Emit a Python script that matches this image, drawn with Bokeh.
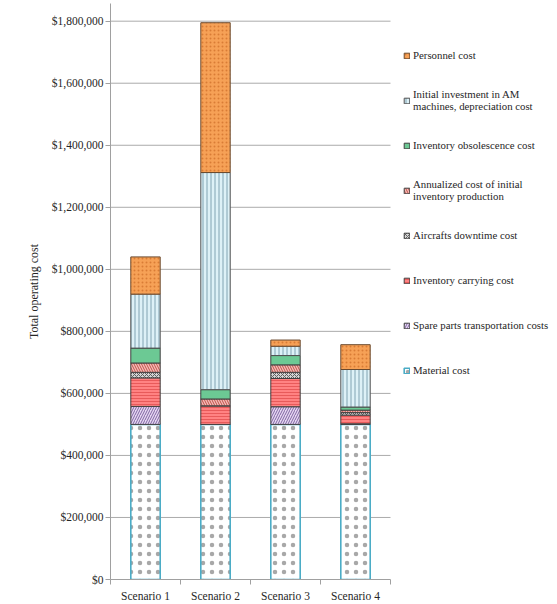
from bokeh.plotting import figure
from bokeh.models import Legend, LegendItem, NumeralTickFormatter, FixedTicker, Range1d, ColumnDataSource
from bokeh.embed import file_html
from bokeh.resources import INLINE

categories = ["Scenario 1", "Scenario 2", "Scenario 3", "Scenario 4"]
material = [500000, 500000, 500000, 500000]
spare_parts = [58000, 0, 57000, 2000]
carrying = [92000, 60000, 91000, 28000]
downtime = [18000, 0, 20000, 8000]
annualized = [30000, 22000, 24000, 8000]
obsolescence = [48000, 30000, 30000, 10000]
investment = [174000, 700000, 30000, 121000]
personnel = [120000, 483000, 20000, 80000]

series_keys = ["material", "spare", "carrying", "downtime", "annualized",
               "obsolescence", "investment", "personnel"]
series_labels = ["Material cost", "Spare parts transportation costs", "Inventory carrying cost",
                 "Aircrafts downtime cost", "Annualized cost of initial\ninventory production",
                 "Inventory obsolescence cost", "Initial investment in AM\nmachines, depreciation cost",
                 "Personnel cost"]
y_ticks = [0, 200000, 400000, 600000, 800000, 1000000, 1200000, 1400000, 1600000, 1800000]

n = len(categories)
centers = [i + 0.5 for i in range(n)]
bounds = [float(i) for i in range(n + 1)]

source = ColumnDataSource(dict(
    x=centers, material=material, spare=spare_parts, carrying=carrying,
    downtime=downtime, annualized=annualized, obsolescence=obsolescence,
    investment=investment, personnel=personnel))

FONT = "Liberation Serif"
TXT = "#262626"

# frame spans x=110..557; category area is first 280 px
x_end = n * 447.0 / 280.0
p = figure(x_range=Range1d(0, x_end), y_range=Range1d(0, 1857000), width=557, height=604,
           output_backend="svg", toolbar_location=None,
           min_border_left=110, min_border_right=0, min_border_top=3, min_border_bottom=21)
p.outline_line_color = None
p.background_fill_color = "white"
p.xgrid.grid_line_color = None
p.ygrid.grid_line_color = None

# horizontal gridlines limited to the category area
p.segment(x0=[0] * len(y_ticks[1:]), x1=[n] * len(y_ticks[1:]), y0=y_ticks[1:], y1=y_ticks[1:],
          line_color="#ABABAB", line_width=1)

fills = ["#FFFFFF", "#E6D8F2", "#FF8282", "#D4D4D4", "#F6BDB6", "#6CC994", "#DDF1F7", "#F6A156"]
hatches = [".", "/", "-", "x", "\\", " ", "|", "."]
hatch_colors = ["#A8A8A8", "#8064A2", "#E85A5A", "#606060", "#C0504D", "#6CC994", "#7FA3B2", "#D97C35"]
hatch_scales = [9, 5, 3, 4, 5, 6, 4, 4]
hatch_weights = [0.5, 1, 1, 1, 1, 1, 1, 0.6]
line_colors = ["#4BACC6", "#404040", "#404040", "#404040", "#404040", "#404040", "#505050", "#6B4A2E"]
line_widths = [1.6, 1, 1, 1, 1, 1, 1, 1]

rs = p.vbar_stack(series_keys, x="x", width=0.42, source=source,
                  fill_color=fills, hatch_pattern=hatches, hatch_color=hatch_colors,
                  hatch_scale=hatch_scales, line_color=line_colors, line_width=line_widths,
                  hatch_weight=hatch_weights)

items = [LegendItem(label=series_labels[i], renderers=[rs[i]]) for i in range(len(rs) - 1, -1, -1)]
legend = Legend(items=items, location=(293, 194), orientation="vertical")
legend.background_fill_alpha = 0
legend.border_line_color = None
legend.border_line_alpha = 0
legend.label_text_font = FONT
legend.label_text_font_size = "10.8px"
legend.label_text_color = TXT
legend.glyph_width = 7
legend.glyph_height = 7
legend.label_standoff = 3
legend.label_height = 30
legend.spacing = 15
legend.padding = 0
legend.margin = 0
legend.label_text_line_height = 1.1
p.add_layout(legend, "center")

p.yaxis.ticker = FixedTicker(ticks=y_ticks)
p.yaxis.formatter = NumeralTickFormatter(format="$0,0")
p.yaxis.axis_label = "Total operating cost"
p.yaxis.axis_label_text_font = FONT
p.yaxis.axis_label_text_font_style = "normal"
p.yaxis.axis_label_text_font_size = "12px"
p.yaxis.axis_label_text_color = TXT
p.yaxis.axis_label_standoff = 8
p.yaxis.major_tick_out = 5
p.yaxis.major_tick_in = 0
p.yaxis.minor_tick_line_color = None
p.yaxis.major_label_standoff = 2

p.xaxis.ticker = FixedTicker(ticks=centers, minor_ticks=bounds)
p.xaxis.major_label_overrides = {c: lab for c, lab in zip(centers, categories)}
p.xaxis.bounds = (0, n)
p.xaxis.major_tick_line_color = None
p.xaxis.minor_tick_line_color = "#A0A0A0"
p.xaxis.minor_tick_out = 5
p.xaxis.minor_tick_in = 0
p.xaxis.major_label_standoff = 4

for ax in [p.xaxis, p.yaxis]:
    ax.axis_line_color = "#A0A0A0"
    ax.major_label_text_font = FONT
    ax.major_label_text_font_size = "11.5px"
    ax.major_label_text_color = TXT
p.yaxis.major_tick_line_color = "#A0A0A0"

open("out.html", "w").write(file_html(p, INLINE))
